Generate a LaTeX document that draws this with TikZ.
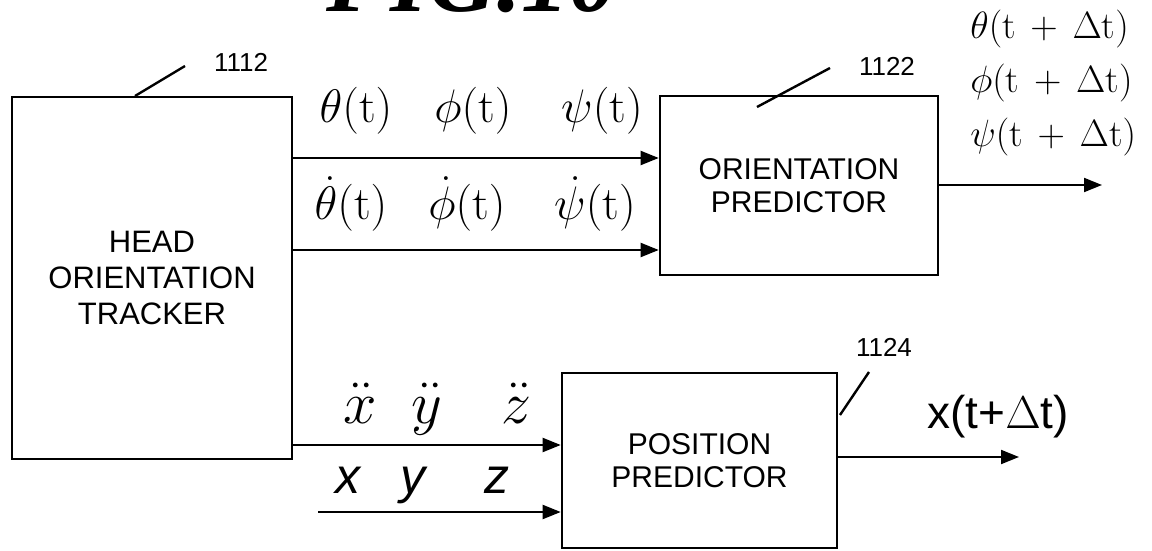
\RequirePackage{fix-cm}
\documentclass[tikz,border=0pt]{standalone}
\usepackage{fontspec}
\setsansfont{Liberation Sans}
\newfontfamily\titlefont{Liberation Serif}
\usetikzlibrary{arrows.meta}
\begin{document}
\begin{tikzpicture}[x=0.5pt,y=-0.5pt,
  box/.style={draw,line width=1.3pt,inner sep=0pt,align=center,font=\sffamily\fontsize{15.5}{18}\selectfont},
  arr/.style={line width=1pt,-{Triangle[length=9pt,width=7pt]}},
  lead/.style={line width=1.2pt},
  num/.style={font=\sffamily\fontsize{13}{15}\selectfont,inner sep=0pt},
  sig/.style={font=\fontsize{23.5}{27}\selectfont,inner sep=0pt,anchor=base},
  acc/.style={font=\fontsize{30}{34}\selectfont,inner sep=0pt,anchor=base},
  xyzlbl/.style={font=\sffamily\itshape\fontsize{25}{28}\selectfont,inner sep=0pt,anchor=base},
  outlbl/.style={font=\fontsize{19}{22}\selectfont,inner sep=0pt,anchor=base west}]
\useasboundingbox (0,0) rectangle (1152,551);

% title (cut at the top edge)
\node[font=\titlefont\bfseries\itshape\fontsize{48}{50}\selectfont,anchor=base,inner sep=0pt] (title) at (472,12) {FIG.10};

% blocks
\node[box,minimum width=140pt,minimum height=181pt] (tracker) at (152,278) {HEAD\\ORIENTATION\\TRACKER};
\node[box,minimum width=139pt,minimum height=89.5pt,font=\sffamily\fontsize{15}{16.5}\selectfont] (orient) at (799,185.5) {ORIENTATION\\PREDICTOR};
\node[box,minimum width=137.5pt,minimum height=87.5pt,font=\sffamily\fontsize{15}{16.5}\selectfont] (posp) at (699.5,460.5) {POSITION\\PREDICTOR};

% reference numerals
\node[num] (n1112) at (241,62) {1112};
\node[num] (n1122) at (887,66) {1122};
\node[num] (n1124) at (884,347) {1124};
\coordinate (l1a) at (135,96);  \coordinate (l1b) at (185,66);
\coordinate (l2a) at (757,107); \coordinate (l2b) at (830,68);
\coordinate (l3a) at (840,415); \coordinate (l3b) at (869,372);
\draw[lead] (l1a) -- (l1b);
\draw[lead] (l2a) -- (l2b);
\draw[lead] (l3a) -- (l3b);

% connector levels
\coordinate (y1) at (0,158);
\coordinate (y2) at (0,250);
\coordinate (y3) at (0,445);
\coordinate (y4) at (0,512);
\coordinate (y5) at (0,185);
\coordinate (y6) at (0,457);
\coordinate (xyzstart) at (318,512);
\coordinate (oend) at (1102,185);
\coordinate (pend) at (1019,457);

\draw[arr] (tracker.east |- y1) -- (orient.west |- y1);
\draw[arr] (tracker.east |- y2) -- (orient.west |- y2);
\draw[arr] (tracker.east |- y3) -- (posp.west |- y3);
\draw[arr] (xyzstart) -- (posp.west |- y4);
\draw[arr] (orient.east |- y5) -- (oend);
\draw[arr] (posp.east |- y6) -- (pend);

% signal labels
\node[sig] (s1) at (356,123) {$\theta(\mathrm{t})$};
\node[sig] (s2) at (473,123) {$\phi(\mathrm{t})$};
\node[sig] (s3) at (602,123) {$\psi(\mathrm{t})$};
\node[sig] (s4) at (351,220) {$\dot\theta(\mathrm{t})$};
\node[sig] (s5) at (467,220) {$\dot\phi(\mathrm{t})$};
\node[sig] (s6) at (595,220) {$\dot\psi(\mathrm{t})$};

\node[acc] (a1) at (360,423) {$\ddot{x}$};
\node[acc] (a2) at (427,423) {$\ddot{y}$};
\node[acc] (a3) at (516,423) {$\ddot{z}$};
\node[xyzlbl] (p1) at (348,493) {x};
\node[xyzlbl] (p2) at (413,493) {y};
\node[xyzlbl] (p3) at (497,493) {z};

\node[outlbl] (o1) at (970,39) {$\theta(\mathrm{t}\,+\,\Delta\mathrm{t})$};
\node[outlbl] (o2) at (970,93) {$\phi(\mathrm{t}\,+\,\Delta\mathrm{t})$};
\node[outlbl] (o3) at (970,147) {$\psi(\mathrm{t}\,+\,\Delta\mathrm{t})$};
\node[font=\sffamily\fontsize{23}{26}\selectfont,inner sep=0pt,anchor=base west] (xo) at (927,428) {x(t+$\Delta$t)};
\end{tikzpicture}
\end{document}
